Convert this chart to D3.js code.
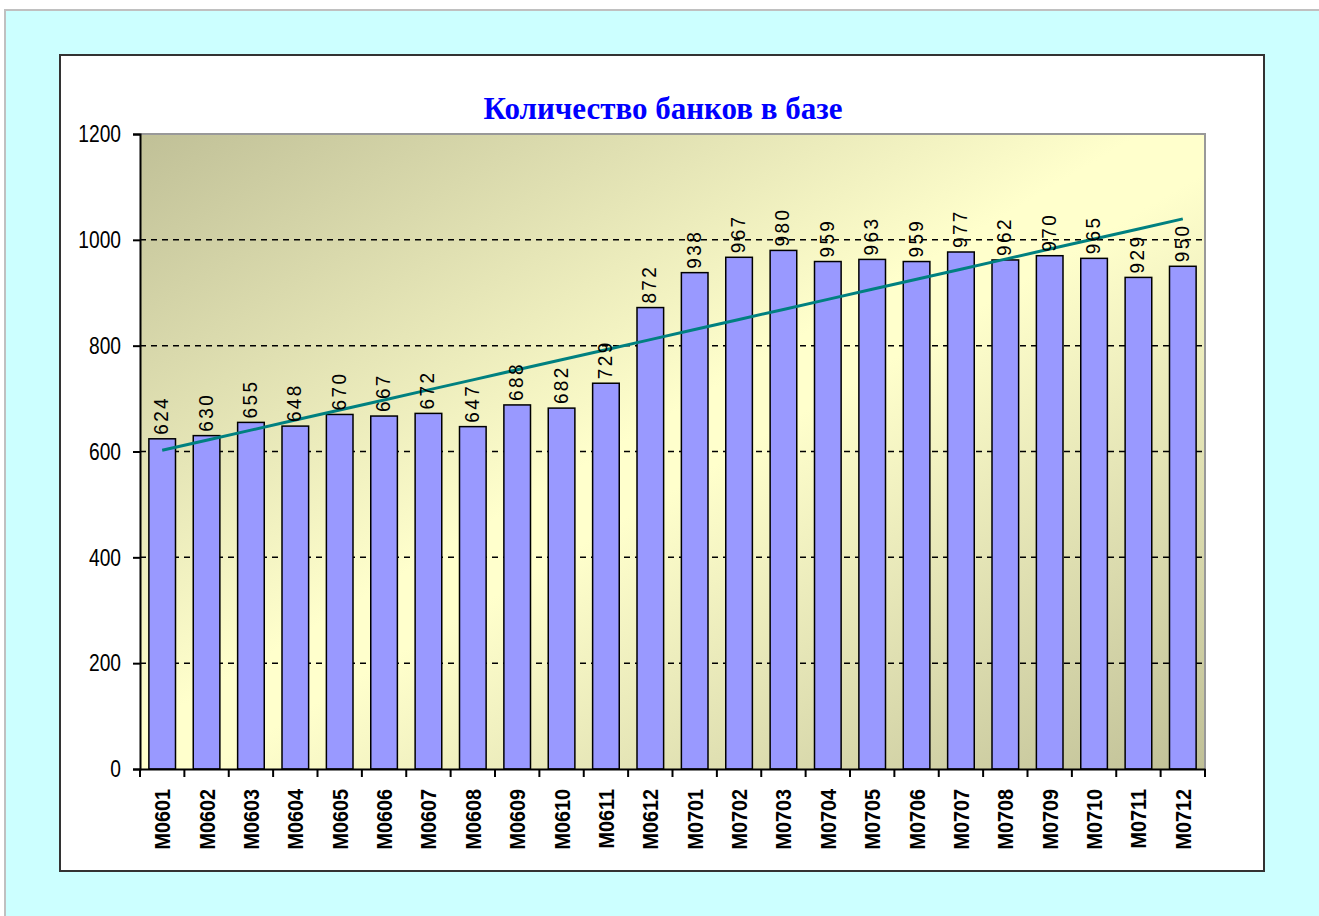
<!DOCTYPE html>
<meta charset="utf-8">
<style>
body { margin: 0; background: #fff; }
svg text { font-family: 'Liberation Sans', Arial, sans-serif; }
</style>
<body>
<div id="chart"></div>
<script src="https://cdn.jsdelivr.net/npm/d3@7"></script>
<script>
// data
const months = ["M0601","M0602","M0603","M0604","M0605","M0606","M0607","M0608","M0609","M0610","M0611","M0612",
                "M0701","M0702","M0703","M0704","M0705","M0706","M0707","M0708","M0709","M0710","M0711","M0712"];
const banks = [624,630,655,648,670,667,672,647,688,682,729,872,
               938,967,980,959,963,959,977,962,970,965,929,950];
const yTicks = [0,200,400,600,800,1000,1200];
const title = "Количество банков в базе";

const W = 1319, H = 916;
const plot = {left: 140, top: 134, right: 1205, bottom: 769};

const svg = d3.select("#chart").append("svg")
  .attr("width", W).attr("height", H);

// page background + chart box
svg.append("rect").attr("x", 0).attr("y", 0).attr("width", W).attr("height", H).attr("fill", "#fff");
svg.append("rect").attr("x", 5).attr("y", 10).attr("width", W).attr("height", H)
  .attr("fill", "#CCFFFF").attr("stroke", "#c0c0c0").attr("stroke-width", 2);
svg.append("rect").attr("x", 60).attr("y", 55).attr("width", 1204).attr("height", 816)
  .attr("fill", "#fff").attr("stroke", "#333").attr("stroke-width", 2);

const x = d3.scaleBand().domain(months).range([plot.left, plot.right]).paddingInner(0.4).paddingOuter(0.2);
const y = d3.scaleLinear().domain([0, 1200]).range([plot.bottom, plot.top]);

// plot area gradient
const grad = svg.append("defs").append("linearGradient").attr("id", "bg")
  .attr("x1", 0).attr("y1", 0).attr("x2", 1).attr("y2", 1);
grad.append("stop").attr("offset", 0).attr("stop-color", "#C0C097");
grad.append("stop").attr("offset", 0.47).attr("stop-color", "#FFFFCC");
grad.append("stop").attr("offset", 0.53).attr("stop-color", "#FFFFCC");
grad.append("stop").attr("offset", 1).attr("stop-color", "#C0C097");

svg.append("rect").attr("x", plot.left).attr("y", plot.top)
  .attr("width", plot.right - plot.left).attr("height", plot.bottom - plot.top)
  .attr("fill", "url(#bg)");
svg.append("path")
  .attr("d", `M${plot.left},${plot.top}H${plot.right}V${plot.bottom}`)
  .attr("fill", "none").attr("stroke", "#999").attr("stroke-width", 2);

// gridlines
svg.append("g").selectAll("line").data(yTicks.filter(d => d > 0 && d < 1200)).join("line")
  .attr("x1", plot.left).attr("x2", plot.right)
  .attr("y1", d => y(d)).attr("y2", d => y(d))
  .attr("stroke", "#000").attr("stroke-width", 1.5).attr("stroke-dasharray", "6,5");

// bars
svg.append("g").selectAll("rect").data(banks).join("rect")
  .attr("x", (d, i) => x(months[i]))
  .attr("y", d => y(d))
  .attr("width", x.bandwidth())
  .attr("height", d => y(0) - y(d))
  .attr("fill", "#9999FF").attr("stroke", "#000").attr("stroke-width", 1.5);

// linear trend (least squares on the bars)
const n = banks.length;
const xs = d3.range(1, n + 1);
const mx = d3.mean(xs), my = d3.mean(banks);
const slope = d3.sum(xs, (v, i) => (v - mx) * (banks[i] - my)) / d3.sum(xs, v => (v - mx) * (v - mx));
const trend = xs.map(v => my + slope * (v - mx));
svg.append("path")
  .datum(trend)
  .attr("d", d3.line().x((d, i) => x(months[i]) + x.bandwidth() / 2).y(d => y(d)))
  .attr("fill", "none").attr("stroke", "#008080").attr("stroke-width", 3);

// value labels
svg.append("g").selectAll("text").data(banks).join("text")
  .attr("transform", (d, i) => `translate(${x(months[i]) + x.bandwidth() / 2 + 6},${y(d) - 4}) rotate(-90) scale(0.95,1)`)
  .attr("font-size", 20).attr("letter-spacing", 2.5)
  .attr("fill", "#000")
  .text(d => d);

// axes
const yAxis = svg.append("g").attr("transform", `translate(${plot.left},0)`)
  .call(d3.axisLeft(y).tickValues(yTicks).tickFormat(d3.format("d")).tickSize(7));
yAxis.select(".domain").attr("stroke-width", 2);
yAxis.selectAll(".tick line").attr("stroke-width", 2);
yAxis.selectAll("text")
  .attr("x", -19 / 0.8).attr("transform", "scale(0.8,1)")
  .attr("font-size", 24).attr("fill", "#000");

const xAxis = svg.append("g").attr("transform", `translate(0,${plot.bottom})`)
  .call(d3.axisBottom(x).tickSize(0).tickSizeOuter(0));
xAxis.select(".domain").attr("stroke-width", 2);
xAxis.selectAll(".tick text")
  .attr("transform", "translate(8,20) rotate(-90) scale(0.9,1)")
  .attr("text-anchor", "end").attr("dy", 0).attr("y", 0)
  .attr("font-size", 22).attr("font-weight", "bold").attr("fill", "#000");
// tick marks on band boundaries
xAxis.append("g").selectAll("line").data(d3.range(n + 1)).join("line")
  .attr("x1", i => i < n ? x(months[i]) - x.step() * x.paddingInner() / 2 : plot.right)
  .attr("x2", i => i < n ? x(months[i]) - x.step() * x.paddingInner() / 2 : plot.right)
  .attr("y1", 0).attr("y2", 8).attr("stroke", "#000").attr("stroke-width", 2);

// title
svg.append("text").attr("x", 663).attr("y", 119).attr("text-anchor", "middle")
  .style("font-family", "'Liberation Serif', 'Times New Roman', serif")
  .attr("font-size", 31).attr("font-weight", "bold").attr("fill", "#0000FF")
  .text(title);
</script>
</body>
